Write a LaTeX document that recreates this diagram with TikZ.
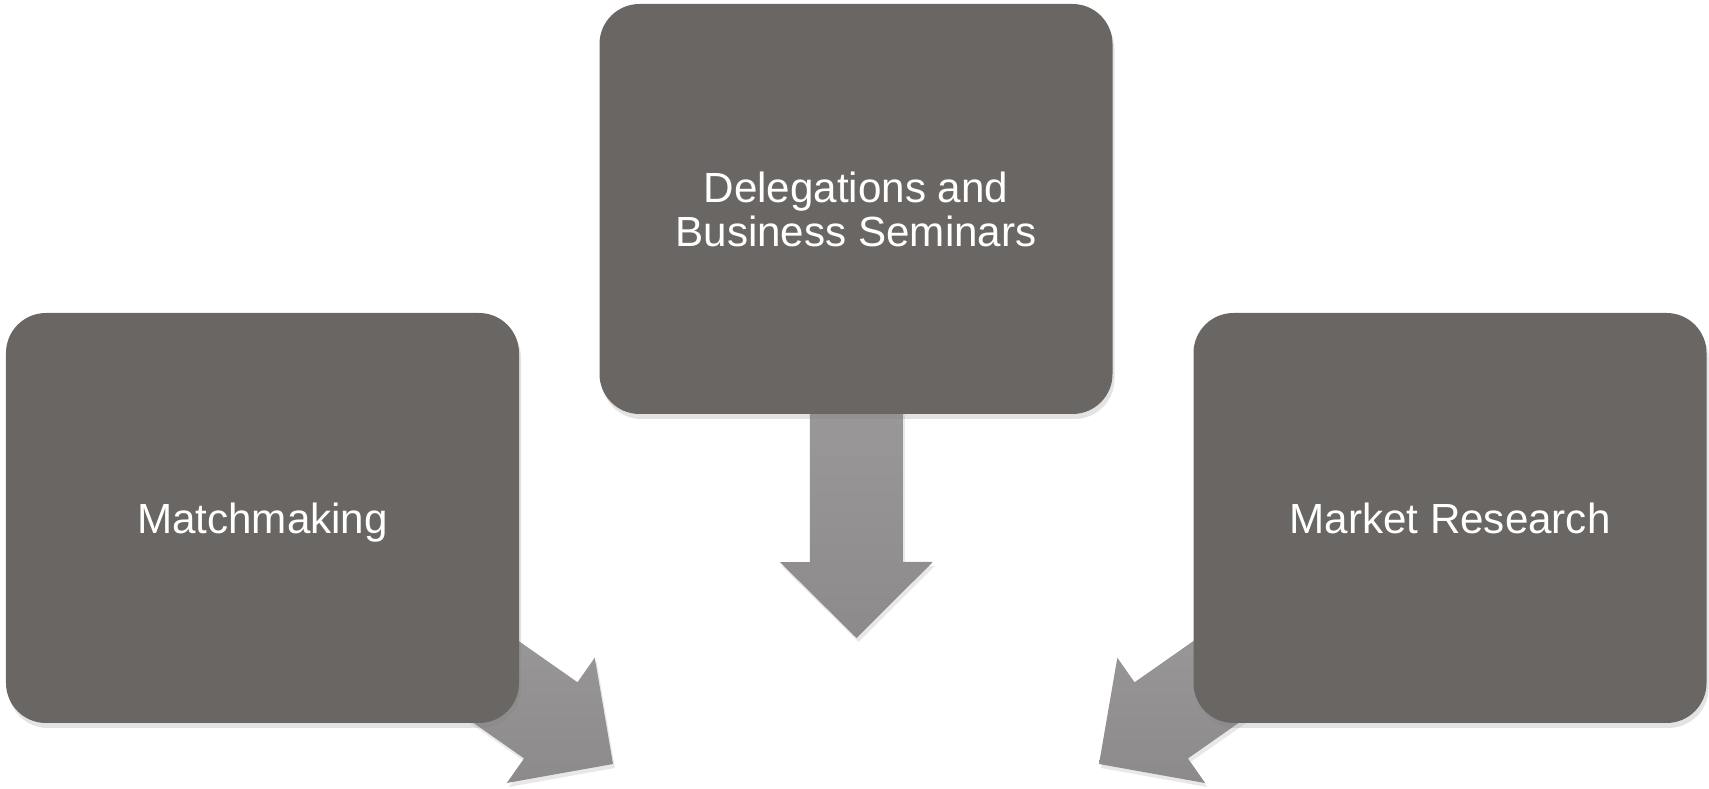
\documentclass[tikz,border=0pt]{standalone}
\usepackage{fontspec}
\setmainfont{Liberation Sans}
\usetikzlibrary{calc,shadows,backgrounds}

\definecolor{boxgray}{RGB}{106,102,100}
\definecolor{arrowtop}{RGB}{165,163,163}
\definecolor{arrowbot}{RGB}{140,138,138}

% wide block arrow from #1 to the tip #2
\newcommand{\blockarrow}[2]{%
  \coordinate (hb) at ($(#2)!0.76cm!(#1)$);
  \path[flow] ($(#1)!0.465cm!90:(#2)$) -- ($(hb)!0.465cm!90:(#2)$)
    -- ($(hb)!0.765cm!90:(#2)$) -- (#2)
    -- ($(hb)!0.765cm!-90:(#2)$) -- ($(hb)!0.465cm!-90:(#2)$)
    -- ($(#1)!0.465cm!-90:(#2)$) -- cycle;
}

\begin{document}
\begin{tikzpicture}[
    task/.style={rectangle, rounded corners=0.4cm, fill=boxgray, text=white,
      minimum width=5.13cm, minimum height=4.1cm, align=center,
      font=\fontsize{12}{12.5}\selectfont,
      drop shadow={opacity=0.22, shadow xshift=0.02cm, shadow yshift=-0.05cm}},
    oneline/.style={text height=8.6pt, text depth=0pt},
    flow/.style={top color=arrowtop, bottom color=arrowbot,
      drop shadow={opacity=0.18, shadow xshift=0.02cm, shadow yshift=-0.04cm}}
  ]
  \useasboundingbox (0,0) rectangle (17.09,-7.89);

  % Boxes
  \node[task] (deleg) at (8.56,-2.09) {Delegations and\\Business Seminars};
  \node[task, oneline] (match) at (2.625,-5.18) {Matchmaking};
  \node[task, oneline] (market) at (14.50,-5.18) {Market Research};

  % Arrow tips
  \coordinate (delegtip) at (8.565,-6.38);
  \coordinate (matchtip) at (6.13,-7.64);
  \coordinate (markettip) at (10.99,-7.64);

  % Arrows (behind the boxes)
  \begin{pgfonlayer}{background}
    \blockarrow{deleg.center}{delegtip}
    \blockarrow{match.center}{matchtip}
    \blockarrow{market.center}{markettip}
  \end{pgfonlayer}
\end{tikzpicture}
\end{document}
